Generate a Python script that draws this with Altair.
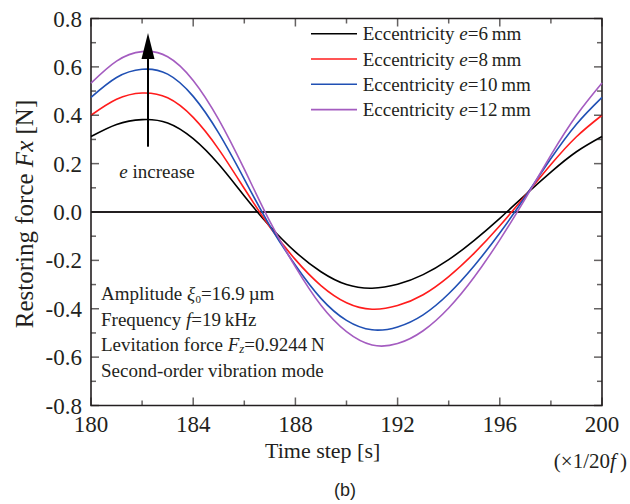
import altair as alt
import pandas as pd

# ---------------- data ----------------
steps = list(range(180, 201))
fx_e6 = [0.312, 0.362, 0.382, 0.368, 0.303, 0.197, 0.066, -0.059, -0.165, -0.247, -0.300,
         -0.315, -0.299, -0.259, -0.197, -0.117, -0.026, 0.071, 0.165, 0.249, 0.312]
fx_e8 = [0.400, 0.466, 0.492, 0.472, 0.391, 0.259, 0.097, -0.062, -0.197, -0.304, -0.375,
         -0.402, -0.387, -0.342, -0.267, -0.170, -0.057, 0.068, 0.196, 0.311, 0.400]
fx_e10 = [0.474, 0.556, 0.590, 0.570, 0.478, 0.326, 0.136, -0.057, -0.220, -0.357, -0.448,
          -0.487, -0.475, -0.425, -0.338, -0.222, -0.087, 0.064, 0.221, 0.363, 0.474]
fx_e12 = [0.533, 0.624, 0.663, 0.642, 0.544, 0.382, 0.177, -0.039, -0.227, -0.386, -0.495,
          -0.550, -0.544, -0.491, -0.397, -0.269, -0.115, 0.055, 0.235, 0.399, 0.533]
series_values = [fx_e6, fx_e8, fx_e10, fx_e12]
ecc_values = ["6", "8", "10", "12"]
series_colors = ["#000000", "#ff1c1c", "#2050b4", "#a45cc0"]

x_major = [180, 184, 188, 192, 196, 200]
x_minor = [182, 186, 190, 194, 198]
y_major = [-0.8, -0.6, -0.4, -0.2, 0.0, 0.2, 0.4, 0.6, 0.8]
y_minor = [-0.7, -0.5, -0.3, -0.1, 0.1, 0.3, 0.5, 0.7]
zero_level = [0.0]
arrow_step = [182.23]
arrow_tail = [0.27]
arrow_base = [0.64]
arrow_tip_center = [0.686]

# ---------------- layout ----------------
W, H = 511, 387
LEFT, TOP = 91, 18.5
XMIN, XMAX, YMIN, YMAX = 180, 200, -0.8, 0.8
INK = "#231f20"
SERIF = "Liberation Serif"


def px2t(px):
    return XMIN + (px - LEFT) * (XMAX - XMIN) / W


def py2v(py):
    return YMAX - (py - TOP) * (YMAX - YMIN) / H


XS = alt.Scale(domain=[XMIN, XMAX], nice=False, zero=False)
YS = alt.Scale(domain=[YMIN, YMAX], nice=False, zero=False)


def X(field):
    return alt.X(field, type="quantitative", scale=XS, axis=None)


def Y(field):
    return alt.Y(field, type="quantitative", scale=YS, axis=None)


# ---------------- curves ----------------
rows = []
for i, vals in enumerate(series_values):
    for t, v in zip(steps, vals):
        rows.append({"t": t, "v": v, "series": ecc_values[i], "col": series_colors[i]})
curve_df = pd.DataFrame(rows)

curves = alt.Chart(curve_df).mark_line(interpolate="natural", strokeWidth=1.6).encode(
    x=X("t"), y=Y("v"),
    color=alt.Color("col:N", scale=None),
    detail="series:N",
)

zero_line = alt.Chart(pd.DataFrame({"v": zero_level})).mark_rule(
    color=INK, strokeWidth=1.8).encode(y=Y("v"))

# ---------------- tick labels (drawn from the tick arrays) ----------------
xlab_df = pd.DataFrame({"t": x_major, "v": [YMIN] * len(x_major),
                        "text": [str(int(x)) for x in x_major]})
x_labels = alt.Chart(xlab_df).mark_text(
    align="center", baseline="alphabetic", dy=26, font=SERIF, fontSize=23, color=INK).encode(
    x=X("t"), y=Y("v"), text="text:N")

ylab_df = pd.DataFrame({"t": [XMIN] * len(y_major), "v": y_major,
                        "text": [("%.1f" % y).replace("\u2212", "-") for y in y_major]})
y_labels = alt.Chart(ylab_df).mark_text(
    align="right", baseline="alphabetic", dx=-9, dy=8, font=SERIF, fontSize=23, color=INK).encode(
    x=X("t"), y=Y("v"), text="text:N")

# ---------------- inward ticks on all four sides ----------------
def xticks(vals, size, yval, off):
    df = pd.DataFrame({"t": vals, "v": [yval] * len(vals)})
    return alt.Chart(df).mark_tick(orient="vertical", size=size, thickness=1.5,
                                   yOffset=off, color=INK).encode(x=X("t"), y=Y("v"))


def yticks(vals, size, xval, off):
    df = pd.DataFrame({"v": vals, "t": [xval] * len(vals)})
    return alt.Chart(df).mark_tick(orient="horizontal", size=size, thickness=1.5,
                                   xOffset=off, color=INK).encode(x=X("t"), y=Y("v"))


tick_layers = [
    xticks(x_major, 8, YMIN, -4), xticks(x_major, 8, YMAX, 4),
    xticks(x_minor, 5, YMIN, -2.5), xticks(x_minor, 5, YMAX, 2.5),
    yticks(y_major, 8, XMIN, 4), yticks(y_major, 8, XMAX, -4),
    yticks(y_minor, 5, XMIN, 2.5), yticks(y_minor, 5, XMAX, -2.5),
]

# ---------------- arrow "e increase" ----------------
arrow_df = pd.DataFrame({"t": arrow_step, "v": arrow_tail, "v2": arrow_base})
arrow_shaft = alt.Chart(arrow_df).mark_rule(color="#000000", strokeWidth=2).encode(
    x=X("t"), y=Y("v"), y2="v2:Q")
arrow_head = alt.Chart(pd.DataFrame({"t": arrow_step, "v": arrow_tip_center})).mark_point(
    shape="M-0.5,1L0,-1L0.5,1Z", filled=True, size=676, color="#000000", opacity=1,
    strokeWidth=0).encode(x=X("t"), y=Y("v"))

# ---------------- legend lines ----------------
legend_rows_y = [33.7, 59.0, 84.3, 109.6]
leg_df = pd.DataFrame({
    "t": [px2t(311)] * 4, "t2": [px2t(357)] * 4,
    "v": [py2v(y) for y in legend_rows_y], "col": series_colors})
legend_lines = alt.Chart(leg_df).mark_rule(strokeWidth=1.6).encode(
    x=X("t"), x2="t2:Q", y=Y("v"), color=alt.Color("col:N", scale=None))

# ---------------- text with mixed styles ----------------
TNR = {' ': 250, '\u2009': 200, '(': 333, ')': 333, '[': 333, ']': 333, '-': 333, '.': 250,
       '/': 278, '=': 564, '\u00d7': 564, '\u00b5': 576,
       'A': 722, 'E': 611, 'F': 556, 'L': 611, 'N': 722, 'R': 667, 'S': 556, 'T': 611,
       'a': 444, 'b': 500, 'c': 444, 'd': 500, 'e': 444, 'f': 333, 'g': 500, 'h': 500,
       'i': 278, 'k': 500, 'l': 278, 'm': 778, 'n': 500, 'o': 500, 'p': 500, 'q': 500,
       'r': 333, 's': 389, 't': 278, 'u': 500, 'v': 500, 'x': 500, 'y': 500, 'z': 444}
TNR_IT = {'e': 444, 'f': 278, 'F': 611, 'x': 444, 'z': 389, '\u03be': 440}


def width(text, ital, size):
    tbl = TNR_IT if ital else TNR
    return sum(tbl.get(ch, 500) for ch in text) * size / 1000.0


text_rows = []


def run(segments, x0, y0, angle=0):
    pos = 0.0
    for text, ital, size, dy in segments:
        stripped = text.lstrip(" \u2009")
        lead = width(text[:len(text) - len(stripped)], ital, size)
        p = pos + lead
        if angle == 0:
            px, py = x0 + p, y0 + dy
        else:
            px, py = x0 + dy, y0 - p
        text_rows.append({"t": px2t(px), "v": py2v(py), "text": stripped,
                          "ital": ital, "size": size, "angle": angle})
        pos += width(text, ital, size)
    return pos


def total(segments):
    return sum(width(s[0], s[1], s[2]) for s in segments)


# legend labels
for yy, ev in zip(legend_rows_y, ecc_values):
    run([("Eccentricity ", False, 19, 0), ("e", True, 19, 0),
         ("=" + ev + "\u2009mm", False, 19, 0)], 362.7, yy + 6.5)

# parameter block
run([("Amplitude ", False, 19, 0), ("\u03be", True, 19, 0), ("0", False, 11, 3),
     ("=16.9\u2009\u00b5m", False, 19, 0)], 101, 300)
run([("Frequency ", False, 19, 0), ("f", True, 19, 0), ("=19\u2009kHz", False, 19, 0)], 101, 325.5)
run([("Levitation force ", False, 19, 0), ("F", True, 19, 0), ("z", True, 13, 2),
     ("=0.9244\u2009N", False, 19, 0)], 101, 351)
run([("Second-order vibration mode", False, 19, 0)], 101, 376.5)

# arrow label
run([("e", True, 19, 0), (" increase", False, 19, 0)], 119.3, 178)

# x-axis title and unit
run([("Time step [s]", False, 22, 0)], 265, 458)
unit = [("(\u00d71/20", False, 21, 0), ("f", True, 21, 0), ("\u2009)", False, 21, 0)]
run(unit, 627 - total(unit), 468)

# y-axis title (rotated)
ytitle = [("Restoring force ", False, 25, 0), ("F", True, 25, 0), ("x", True, 25, 0),
          (" [N]", False, 25, 0)]
run(ytitle, 32.5, 214 + total(ytitle) / 2, angle=270)

text_df = pd.DataFrame(text_rows)
text_layers = []
for ital in (False, True):
    sub = text_df[text_df["ital"] == ital]
    text_layers.append(
        alt.Chart(sub).mark_text(align="left", baseline="alphabetic", font=SERIF,
                                 fontStyle="italic" if ital else "normal", color=INK).encode(
            x=X("t"), y=Y("v"), text="text:N",
            size=alt.Size("size:Q", scale=None),
            angle=alt.Angle("angle:Q", scale=None)))

caption = alt.Chart(pd.DataFrame({"t": [px2t(345)], "v": [py2v(496)], "text": ["(b)"]})).mark_text(
    align="center", baseline="alphabetic", font="Liberation Sans", fontSize=18, color=INK).encode(
    x=X("t"), y=Y("v"), text="text:N")

chart = alt.layer(
    zero_line, curves, *tick_layers, x_labels, y_labels, arrow_shaft, arrow_head,
    legend_lines, *text_layers, caption
).properties(
    width=W, height=H,
    padding={"left": 91, "top": 18.5, "right": 28, "bottom": 98.5},
    autosize=alt.AutoSizeParams(type="none"),
).configure_view(stroke=INK, strokeWidth=1.6)

chart.save("out.html", embed_options={"renderer": "svg", "actions": False})
